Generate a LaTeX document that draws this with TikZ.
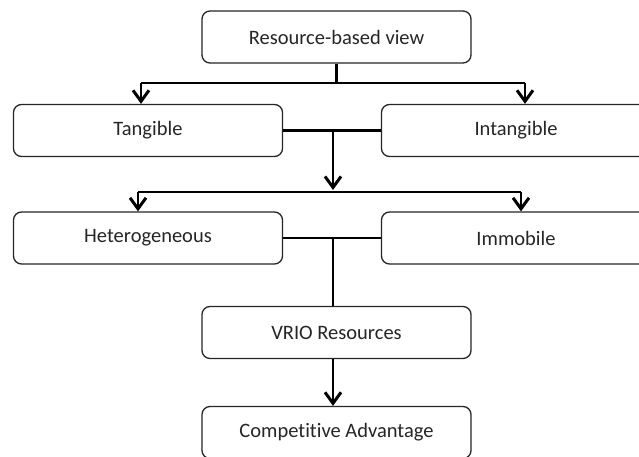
\documentclass[tikz,border=0pt]{standalone}
\usepackage{fontspec}
\setmainfont{Carlito}[Ligatures={NoCommon}]
\usetikzlibrary{arrows.meta}
\begin{document}
\begin{tikzpicture}[x=1pt,y=-1pt,
  box/.style={draw=black!85,line width=1.3pt,rounded corners=8pt,fill=white,
    minimum width=269pt,minimum height=52pt,inner sep=0pt,
    font=\fontsize{20.5}{24}\selectfont,text=black!85},
  link/.style={draw=black,line width=2.6pt},
  joinline/.style={draw=black,line width=2.2pt},
  tip/.style={link,-{Straight Barb[length=11pt,width=16pt,line width=3pt]}}]
\useasboundingbox[fill=white] (0,0) rectangle (639,457);

\node[box] (rbv)  at (336.5,37)   {Resource-based view};
\node[box] (tang) at (148,130.5)  {Tangible};
\node[box] (intg) at (516,130.5)  {Intangible};
\node[box] (het)  at (148,238)    {Heterogeneous};
\node[box] (imm)  at (516,238)    {Immobile};
\node[box] (vrio) at (336.5,332.5){VRIO Resources};
\node[box] (comp) at (336.5,432.5){Competitive Advantage};

% first split: view into tangible / intangible
\coordinate (s1) at (rbv.south |- 0,83);
\coordinate (s1l) at (141,83);
\coordinate (s1r) at (525,83);
\draw[link] (rbv.south) -- (s1);
\draw[link] (s1l) -- (s1r);
\draw[tip] (s1l) -- (s1l |- tang.north);
\draw[tip] (s1r) -- (s1r |- intg.north);

% join of the two resource types, then second split
\coordinate (j1) at (333,130.5);
\coordinate (s2) at (333,192);
\coordinate (s2l) at (138,192);
\coordinate (s2r) at (521,192);
\draw[joinline] (tang.east) -- (intg.west);
\draw[tip] (j1) -- (333,190);
\draw[link] (s2l) -- (s2r);
\draw[tip] (s2l) -- (s2l |- het.north);
\draw[tip] (s2r) -- (s2r |- imm.north);

% join of heterogeneous / immobile into VRIO
\coordinate (j2) at (333,238);
\draw[joinline] (het.east) -- (imm.west);
\draw[link] (j2) -- (j2 |- vrio.north);

% VRIO to competitive advantage
\draw[tip] (vrio.south -| j2) -- (comp.north -| j2);
\end{tikzpicture}
\end{document}
